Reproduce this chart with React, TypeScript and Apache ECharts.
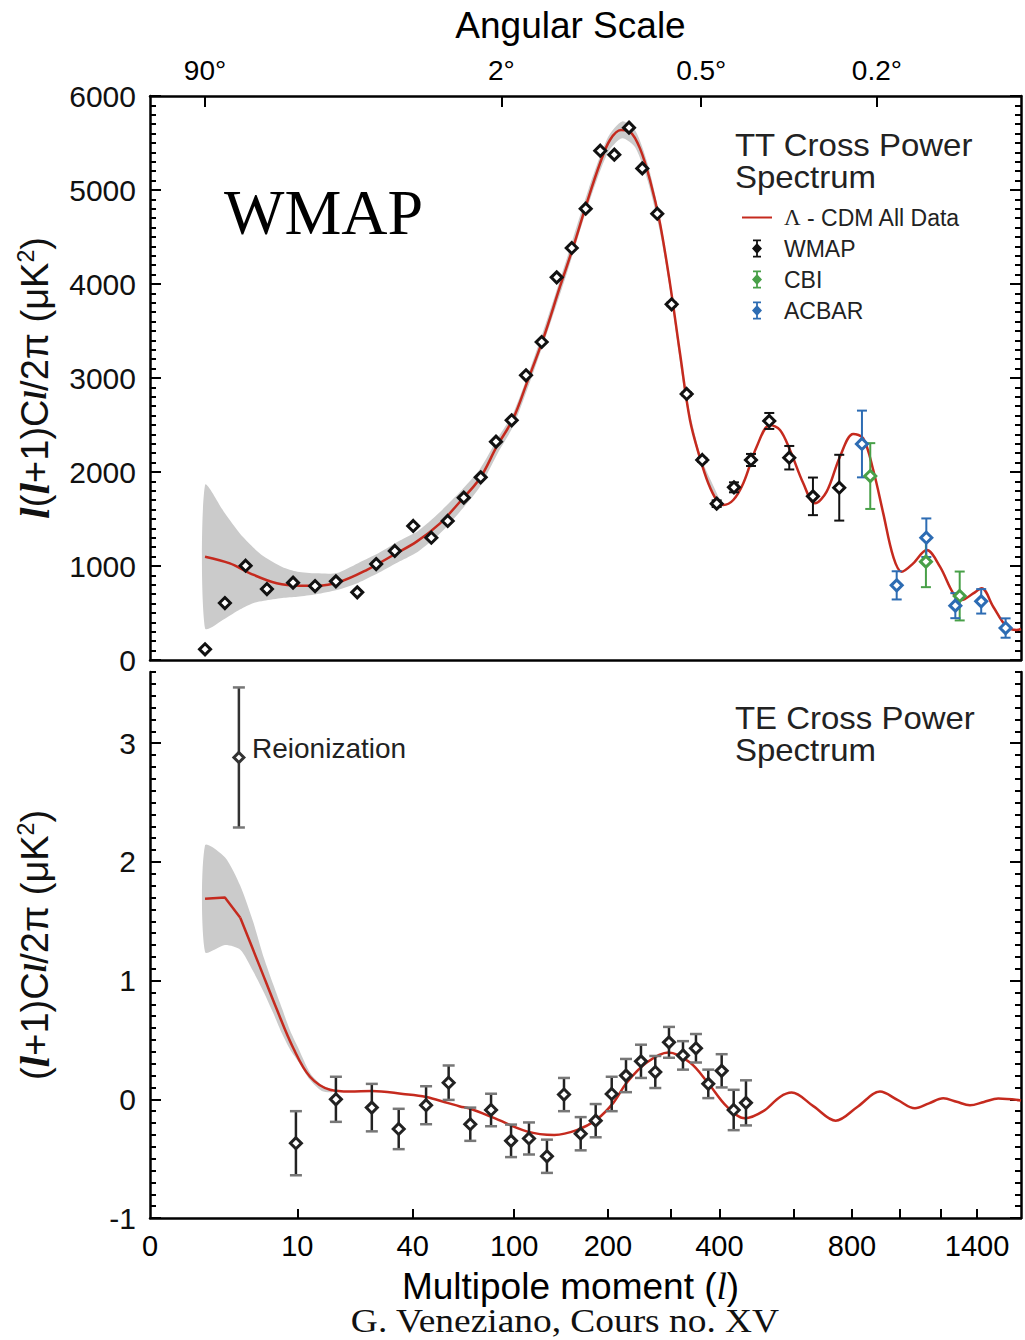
import React, { useEffect, useRef } from "react";
import * as echarts from "echarts";

// ---------- x scale: the original plot uses x proportional to l^(1/4) ----------
const SCALE_POW = 0.25;
const U_MIN = 0.838; // left edge, labelled "0"
const U_MAX = 6.397; // right edge (l ~ 1675)
const toU = (l: number) => Math.pow(l, SCALE_POW);

// ---------- tick labels ----------
const X_TICK_L = [10, 40, 100, 200, 300, 400, 600, 800, 1000, 1200, 1400];
const X_LABEL_L = [0, 10, 40, 100, 200, 400, 800, 1400];
const ANGLE_TICKS_DEG = [90, 2, 0.5, 0.2];
const TT_Y_TICKS = [0, 1000, 2000, 3000, 4000, 5000, 6000];
const TE_Y_TICKS = [-1, 0, 1, 2, 3];

// ---------- TT panel data ----------
const WMAP_TT_L = [2, 3, 4.4, 6.3, 9.4, 12.8, 16.8, 21.8, 27.1, 33.2, 40.2, 48.1, 56.2, 65.1, 75.6, 86.1, 98.0, 109.9, 124.1, 139.0, 155.2, 171.5, 189.8, 208.8, 230.2, 250.9, 275.9, 301.6, 330.3, 362.3, 393.8, 434.3, 477.1, 526.6, 585.0, 660.3, 752.2];
const WMAP_TT_V = [114, 606, 1003, 755, 823, 787, 837, 720, 1021, 1160, 1426, 1301, 1479, 1727, 1943, 2323, 2550, 3029, 3383, 4071, 4383, 4801, 5418, 5376, 5663, 5230, 4748, 3784, 2830, 2128, 1663, 1837, 2128, 2543, 2152, 1741, 1833];
const WMAP_TT_ERR = [0, 0, 0, 0, 0, 0, 0, 0, 0, 0, 0, 0, 0, 0, 0, 0, 0, 0, 0, 0, 0, 0, 0, 0, 0, 0, 0, 20, 20, 22, 35, 53, 64, 85, 125, 200, 350];

const CBI_L = [872.5, 1124, 1301];
const CBI_V = [1957, 1046, 681];
const CBI_ERR = [350, 271, 260];

const ACBAR_L = [839, 986, 1126, 1277, 1424, 1574];
const ACBAR_V = [2298, 794, 1301, 578, 624, 340];
const ACBAR_ERR = [355, 150, 205, 133, 130, 103];

const TT_MODEL_L = [2, 3.3, 4.75, 7.35, 10.4, 13.1, 17.7, 24.3, 32.7, 41.6, 52.3, 62.9, 75.1, 86.6, 99.3, 110.5, 125.7, 142.4, 157, 172.7, 189.5, 202.8, 218.3, 231.7, 247.2, 263.5, 280.6, 298.5, 317.3, 336.9, 357.4, 375.2, 393.8, 408.9, 432.6, 457.4, 492.1, 528.6, 557.3, 587.1, 628.7, 667, 707.1, 754.8, 804.9, 844.1, 884.8, 927, 970.6, 1008.5, 1062.5, 1127.6, 1195.2, 1265.7, 1311.8, 1377.5, 1426.7, 1496.6, 1580.6, 1645.7, 1675];
const TT_MODEL_V = [1099, 1028, 922, 816, 791, 791, 833, 957, 1117, 1259, 1454, 1684, 1933, 2269, 2571, 2943, 3422, 3971, 4397, 4858, 5284, 5532, 5638, 5620, 5443, 5106, 4646, 4007, 3263, 2553, 2150, 1880, 1700, 1649, 1702, 1880, 2269, 2500, 2447, 2234, 1880, 1667, 1791, 2163, 2404, 2358, 2021, 1560, 1099, 939, 1028, 1170, 993, 709, 638, 709, 763, 567, 354, 319, 330];

const TT_BAND_L = [2, 3, 4, 5, 6, 8, 10, 13, 17, 22, 28, 35, 42, 52, 63, 75, 87, 100, 125, 150, 175, 200, 220, 240, 260, 280, 300, 330, 360, 400];
const TT_BAND_LO = [337, 440, 540, 605, 630, 660, 673, 700, 745, 820, 930, 1050, 1150, 1340, 1580, 1840, 2190, 2510, 3340, 4120, 4850, 5400, 5550, 5450, 5090, 4570, 3880, 2710, 2070, 1650];
const TT_BAND_HI = [1862, 1560, 1340, 1200, 1100, 990, 940, 922, 925, 1030, 1140, 1270, 1370, 1570, 1790, 2030, 2350, 2650, 3480, 4280, 5010, 5560, 5730, 5630, 5270, 4720, 4000, 2810, 2150, 1710];

// ---------- TE panel data ----------
const WMAP_TE_L = [9.8, 16.8, 25.8, 34.6, 45.7, 56.7, 69, 82.6, 97.5, 112.5, 129.2, 146.7, 165.5, 183.9, 205.2, 225.7, 248.8, 272.5, 296.7, 323.1, 349.1, 375.2, 405.2, 433.6, 464.2];
const WMAP_TE_V = [-0.37, 0.0, -0.07, -0.25, -0.05, 0.14, -0.21, -0.09, -0.35, -0.33, -0.48, 0.04, -0.29, -0.18, 0.045, 0.2, 0.32, 0.23, 0.48, 0.37, 0.43, 0.13, 0.24, -0.09, -0.03];
const WMAP_TE_ERR = [0.27, 0.19, 0.2, 0.17, 0.16, 0.145, 0.14, 0.137, 0.137, 0.135, 0.14, 0.14, 0.14, 0.14, 0.145, 0.14, 0.14, 0.135, 0.13, 0.12, 0.12, 0.12, 0.14, 0.17, 0.19];

const REION_L = [3.9];
const REION_V = [2.88];
const REION_ERR = [0.59];

// low-l part of the TE model is drawn piecewise-straight, the rest smooth
const TE_MODEL_LOW_L = [2, 3, 4];
const TE_MODEL_LOW_V = [1.69, 1.7, 1.53];
const TE_MODEL_L = [4, 5.6, 7.35, 9.44, 11.95, 15.6, 20, 25.8, 36.2, 45.7, 56, 62.9, 69, 84.2, 110.5, 136.5, 160.9, 185.2, 207.4, 226.7, 258.1, 295.4, 336.9, 375.2, 416.9, 461.7, 510, 557.3, 592.3, 662.7, 739.1, 823.2, 912.9, 989.4, 1070.7, 1139.1, 1212.4, 1284.2, 1358.5, 1440.4, 1527.6, 1675];
const TE_MODEL_V = [1.53, 1.12, 0.76, 0.43, 0.19, 0.08, 0.065, 0.07, 0.045, 0.02, -0.03, -0.06, -0.08, -0.155, -0.27, -0.3, -0.26, -0.17, -0.03, 0.14, 0.31, 0.395, 0.31, 0.135, -0.06, -0.16, -0.1, 0.02, 0.057, -0.06, -0.18, -0.06, 0.065, -0.005, -0.076, -0.034, 0.008, -0.021, -0.05, -0.022, 0.006, -0.01];

const TE_BAND_L = [2, 3, 4, 5, 6, 7, 8, 9, 10, 12, 14, 16];
const TE_BAND_LO = [1.24, 1.3, 1.26, 1.08, 0.9, 0.72, 0.55, 0.42, 0.33, 0.16, 0.07, 0.06];
const TE_BAND_HI = [2.14, 2.04, 1.8, 1.5, 1.19, 0.96, 0.76, 0.58, 0.45, 0.22, 0.12, 0.08];

// ---------- styles ----------
const RED = "#c52a1e";
const BLUE = "#2d6cb3";
const GREEN = "#48a048";
const BAND = "#cbcbcb";
const SANS = "Liberation Sans";
const NARROW = '"Liberation Sans Narrow", "Liberation Sans", sans-serif';
const SERIF = "Liberation Serif";

const pts = (ls: number[], vs: number[]) => ls.map((l, i) => [toU(l), vs[i]]);
const errPts = (ls: number[], vs: number[], es: number[]) =>
  ls.map((l, i) => [toU(l), vs[i], es[i]]).filter((d) => d[2] > 0);

const ERRBAR_ICON =
  "path://M0,0h0.05v0.05h-0.05z M30,18h-0.05v-0.05h0.05z M11,0H19V1.8H15.9V4.6L20,9L15.9,13.4V16.2H19V18H11V16.2H14.1V13.4L10,9L14.1,4.6V1.8H11Z";

function errorSeries(name: string, data: number[][], color: string, capColor: string, cap: number, width: number, xi: number, yi: number) {
  return {
    type: "custom",
    name,
    xAxisIndex: xi,
    yAxisIndex: yi,
    data,
    encode: { x: 0, y: 1 },
    silent: true,
    z: 3,
    renderItem: (_p: any, api: any) => {
      const x = api.value(0);
      const v = api.value(1);
      const e = api.value(2);
      const top = api.coord([x, v + e]);
      const bot = api.coord([x, v - e]);
      const st = { stroke: color, lineWidth: width };
      const cs = { stroke: capColor, lineWidth: width };
      return {
        type: "group",
        children: [
          { type: "line", shape: { x1: top[0], y1: top[1], x2: bot[0], y2: bot[1] }, style: st },
          { type: "line", shape: { x1: top[0] - cap, y1: top[1], x2: top[0] + cap, y2: top[1] }, style: cs },
          { type: "line", shape: { x1: bot[0] - cap, y1: bot[1], x2: bot[0] + cap, y2: bot[1] }, style: cs },
        ],
      };
    },
  };
}

function pointSeries(name: string, data: number[][], color: string, size: number, xi: number, yi: number) {
  return {
    type: "scatter",
    name,
    xAxisIndex: xi,
    yAxisIndex: yi,
    data,
    symbol: "diamond",
    symbolSize: size,
    itemStyle: { color: "#ffffff", borderColor: color, borderWidth: 3, opacity: 1 },
    z: 4,
    silent: true,
  };
}

// grey confidence band drawn as one polygon through the axis coordinates
function bandSeries(ls: number[], lo: number[], hi: number[], xi: number, yi: number) {
  return {
    type: "custom",
    xAxisIndex: xi,
    yAxisIndex: yi,
    silent: true,
    z: 1,
    data: ls.map((l, i) => [toU(l), lo[i], hi[i]]),
    encode: { x: 0, y: [1, 2] },
    renderItem: (params: any, api: any) => {
      if (params.dataIndex !== 0) return { type: "group", children: [] };
      const upper = ls.map((l, i) => api.coord([toU(l), hi[i]]));
      const lower = ls.map((l, i) => api.coord([toU(l), lo[i]])).reverse();
      return {
        type: "polygon",
        shape: { points: upper.concat(lower), smooth: 0.25 },
        style: { fill: BAND, stroke: "none" },
      };
    },
  };
}

const xLabelFormatter = (v: number) =>
  Math.abs(v - U_MIN) < 1e-6 ? "0" : String(Math.round(Math.pow(v, 1 / SCALE_POW)));
const angleFormatter = (v: number) => `${+(180 / Math.pow(v, 1 / SCALE_POW)).toFixed(1)}°`;

const TE_MINOR = Array.from({ length: 47 }, (_, i) => +(-1 + i * 0.1).toFixed(2)).filter(
  (v) => Math.abs(v - Math.round(v)) > 1e-6 && v <= 3.6
);
const TT_MINOR = Array.from({ length: 61 }, (_, i) => i * 100).filter((v) => v % 1000 !== 0);

const axisLineStyle = { color: "#000", width: 2.5 };

function yMajorMinor(gridIndex: number, position: string, min: number, max: number, major: number[], minor: number[], showLabels: boolean, name?: string) {
  const major_ = {
    type: "value",
    gridIndex,
    position,
    min,
    max,
    axisLine: { show: true, onZero: false, lineStyle: axisLineStyle },
    axisTick: { show: true, inside: true, length: 11, customValues: major, lineStyle: { color: "#000", width: 2 } },
    axisLabel: {
      show: showLabels,
      customValues: major,
      formatter: (v: number) => String(v),
      color: "#111",
      fontSize: 30,
      fontFamily: SANS,
      margin: 14,
      padding: [0, 0, 4, 0],
    },
    splitLine: { show: false },
    ...(name
      ? {
          name,
          nameLocation: "middle",
          nameRotate: 90,
          nameGap: 94,
          nameTextStyle: {
            fontSize: 38,
            fontFamily: SANS,
            color: "#111",
            rich: {
              i: { fontFamily: SERIF, fontStyle: "italic", fontWeight: "bold", fontSize: 42, color: "#111" },
              s: { fontFamily: SERIF, fontStyle: "italic", fontWeight: "bold", fontSize: 31, color: "#111" },
              p: { fontFamily: SANS, fontSize: 23, verticalAlign: "top", color: "#111" },
            },
          },
        }
      : {}),
  };
  const minor_ = {
    type: "value",
    gridIndex,
    position,
    min,
    max,
    axisLine: { show: false },
    axisTick: { show: true, inside: true, length: 6, customValues: minor, lineStyle: { color: "#000", width: 2 } },
    axisLabel: { show: false },
    splitLine: { show: false },
  };
  return [major_, minor_];
}

function headline(left: number, top: number, text: string) {
  return {
    type: "text",
    left,
    top,
    scaleX: 1.03,
    style: { text, font: `32px ${SANS}`, lineHeight: 31, fill: "#222" },
  };
}

function buildOption() {
  const ttGrid = 0;
  const teGrid = 1;
  return {
    animation: false,
    backgroundColor: "#ffffff",
    textStyle: { fontFamily: SANS },
    grid: [
      { left: 150, top: 96, width: 871, height: 564 },
      { left: 150, top: 672, width: 871, height: 546 },
    ],
    xAxis: [
      {
        type: "value",
        gridIndex: ttGrid,
        position: "top",
        min: U_MIN,
        max: U_MAX,
        axisLine: { show: true, onZero: false, lineStyle: axisLineStyle },
        axisTick: { show: true, inside: true, length: 11, customValues: ANGLE_TICKS_DEG.map((d) => toU(180 / d)), lineStyle: { color: "#000", width: 2 } },
        axisLabel: {
          show: true,
          customValues: ANGLE_TICKS_DEG.map((d) => toU(180 / d)),
          formatter: angleFormatter,
          fontSize: 28,
          fontFamily: NARROW,
          color: "#000",
          margin: 12,
        },
        splitLine: { show: false },
        name: "Angular Scale",
        nameLocation: "middle",
        nameGap: 52,
        nameTextStyle: { fontSize: 37, fontFamily: NARROW, color: "#000", padding: [0, 30, 0, 0] },
      },
      {
        type: "value",
        gridIndex: ttGrid,
        position: "bottom",
        min: U_MIN,
        max: U_MAX,
        axisLine: { show: true, onZero: false, lineStyle: axisLineStyle },
        axisTick: { show: false },
        axisLabel: { show: false },
        splitLine: { show: false },
      },
      {
        type: "value",
        gridIndex: teGrid,
        position: "bottom",
        min: U_MIN,
        max: U_MAX,
        axisLine: { show: true, onZero: false, lineStyle: axisLineStyle },
        axisTick: { show: true, inside: true, length: 9, customValues: X_TICK_L.map(toU), lineStyle: { color: "#000", width: 2 } },
        axisLabel: {
          show: true,
          showMinLabel: true,
          customValues: X_LABEL_L.map((l) => (l === 0 ? U_MIN : toU(l))),
          formatter: xLabelFormatter,
          fontSize: 29,
          fontFamily: NARROW,
          color: "#000",
          margin: 13,
        },
        splitLine: { show: false },
        name: "Multipole moment ({i|l})",
        nameLocation: "middle",
        nameGap: 50,
        nameTextStyle: {
          fontSize: 37,
          lineHeight: 36,
          fontFamily: NARROW,
          color: "#000",
          padding: [0, 30, 0, 0],
          rich: { i: { fontFamily: SERIF, fontStyle: "italic", fontSize: 37, lineHeight: 36, color: "#000" } },
        },
      },
    ],
    yAxis: [
      ...yMajorMinor(ttGrid, "left", 0, 6000, TT_Y_TICKS, TT_MINOR, true, "{i|l}({i|l}+1)C{s|l}/2π (μK{p|2})"),
      ...yMajorMinor(ttGrid, "right", 0, 6000, TT_Y_TICKS, TT_MINOR, false),
      ...yMajorMinor(teGrid, "left", -1, 3.6, TE_Y_TICKS, TE_MINOR, true, "({i|l}+1)C{s|l}/2π (μK{p|2})"),
      ...yMajorMinor(teGrid, "right", -1, 3.6, TE_Y_TICKS, TE_MINOR, false),
    ],
    legend: {
      orient: "vertical",
      left: 736,
      top: 201,
      itemWidth: 30,
      itemHeight: 18,
      itemGap: 8,
      selectedMode: false,
      data: [
        { name: "LCDM", itemStyle: { opacity: 0 } },
        { name: "WMAP", icon: ERRBAR_ICON, itemStyle: { color: "#111", borderWidth: 0 } },
        { name: "CBI", icon: ERRBAR_ICON, itemStyle: { color: GREEN, borderWidth: 0 } },
        { name: "ACBAR", icon: ERRBAR_ICON, itemStyle: { color: BLUE, borderWidth: 0 } },
      ],
      formatter: (n: string) => (n === "LCDM" ? "{g|Λ} - CDM All Data" : n),
      textStyle: {
        fontSize: 23,
        lineHeight: 18,
        fontFamily: SANS,
        color: "#222",
        padding: [0, 0, 0, 7],
        rich: { g: { fontFamily: SERIF, fontSize: 23, color: "#222" } },
      },
    },
    graphic: [
      { type: "text", left: 224, top: 180, style: { text: "WMAP", font: `64px ${SERIF}`, fill: "#000" } },
      headline(735, 129, "TT Cross Power"),
      headline(735, 161, "Spectrum"),
      headline(735, 702, "TE Cross Power"),
      headline(735, 734, "Spectrum"),
      { type: "text", left: 252, top: 734, style: { text: "Reionization", font: `28px ${SANS}`, fill: "#222" } },
      {
        type: "text",
        x: 565,
        y: 1321,
        scaleX: 1.1,
        style: {
          text: "G. Veneziano, Cours no. XV",
          font: `34px ${SERIF}`,
          lineHeight: 30,
          fill: "#111",
          align: "center",
          verticalAlign: "middle",
        },
      },
    ],
    series: [
      bandSeries(TT_BAND_L, TT_BAND_LO, TT_BAND_HI, 0, 0),
      {
        type: "line",
        name: "LCDM",
        xAxisIndex: 0,
        yAxisIndex: 0,
        data: pts(TT_MODEL_L, TT_MODEL_V),
        showSymbol: false,
        symbol: "none",
        smooth: 0.35,
        lineStyle: { color: RED, width: 2.5 },
        itemStyle: { color: RED },
        z: 2,
        silent: true,
      },
      pointSeries("WMAP", pts(WMAP_TT_L, WMAP_TT_V), "#111", 11, 0, 0),
      errorSeries("WMAP-err", errPts(WMAP_TT_L, WMAP_TT_V, WMAP_TT_ERR), "#111", "#111", 5, 2, 0, 0),
      pointSeries("CBI", pts(CBI_L, CBI_V), GREEN, 11, 0, 0),
      errorSeries("CBI-err", errPts(CBI_L, CBI_V, CBI_ERR), GREEN, GREEN, 5, 2, 0, 0),
      pointSeries("ACBAR", pts(ACBAR_L, ACBAR_V), BLUE, 11, 0, 0),
      errorSeries("ACBAR-err", errPts(ACBAR_L, ACBAR_V, ACBAR_ERR), BLUE, BLUE, 5, 2, 0, 0),

      bandSeries(TE_BAND_L, TE_BAND_LO, TE_BAND_HI, 2, 4),
      {
        type: "line",
        name: "TE model low",
        xAxisIndex: 2,
        yAxisIndex: 4,
        data: pts(TE_MODEL_LOW_L, TE_MODEL_LOW_V),
        showSymbol: false,
        symbol: "none",
        smooth: false,
        lineStyle: { color: RED, width: 2.5 },
        z: 2,
        silent: true,
      },
      {
        type: "line",
        name: "TE model",
        xAxisIndex: 2,
        yAxisIndex: 4,
        data: pts(TE_MODEL_L, TE_MODEL_V),
        showSymbol: false,
        symbol: "none",
        smooth: 0.35,
        lineStyle: { color: RED, width: 2.5 },
        z: 2,
        silent: true,
      },
      errorSeries("TE-err", errPts(WMAP_TE_L, WMAP_TE_V, WMAP_TE_ERR), "#222", "#777", 6, 2.5, 2, 4),
      pointSeries("WMAP TE", pts(WMAP_TE_L, WMAP_TE_V), "#222", 11, 2, 4),
      errorSeries("Reion-err", errPts(REION_L, REION_V, REION_ERR), "#333", "#777", 6, 2.5, 2, 4),
      pointSeries("Reionization", pts(REION_L, REION_V), "#333", 10, 2, 4),
    ],
  };
}

export default function App() {
  const ref = useRef<HTMLDivElement>(null);
  useEffect(() => {
    if (!ref.current) return;
    const chart = echarts.init(ref.current, undefined, { renderer: "svg" });
    chart.setOption(buildOption() as any);
    return () => chart.dispose();
  }, []);
  return (
    <div
      ref={ref}
      style={{ position: "absolute", left: 0, top: 0, width: 1025, height: 1340, background: "#fff" }}
    />
  );
}
